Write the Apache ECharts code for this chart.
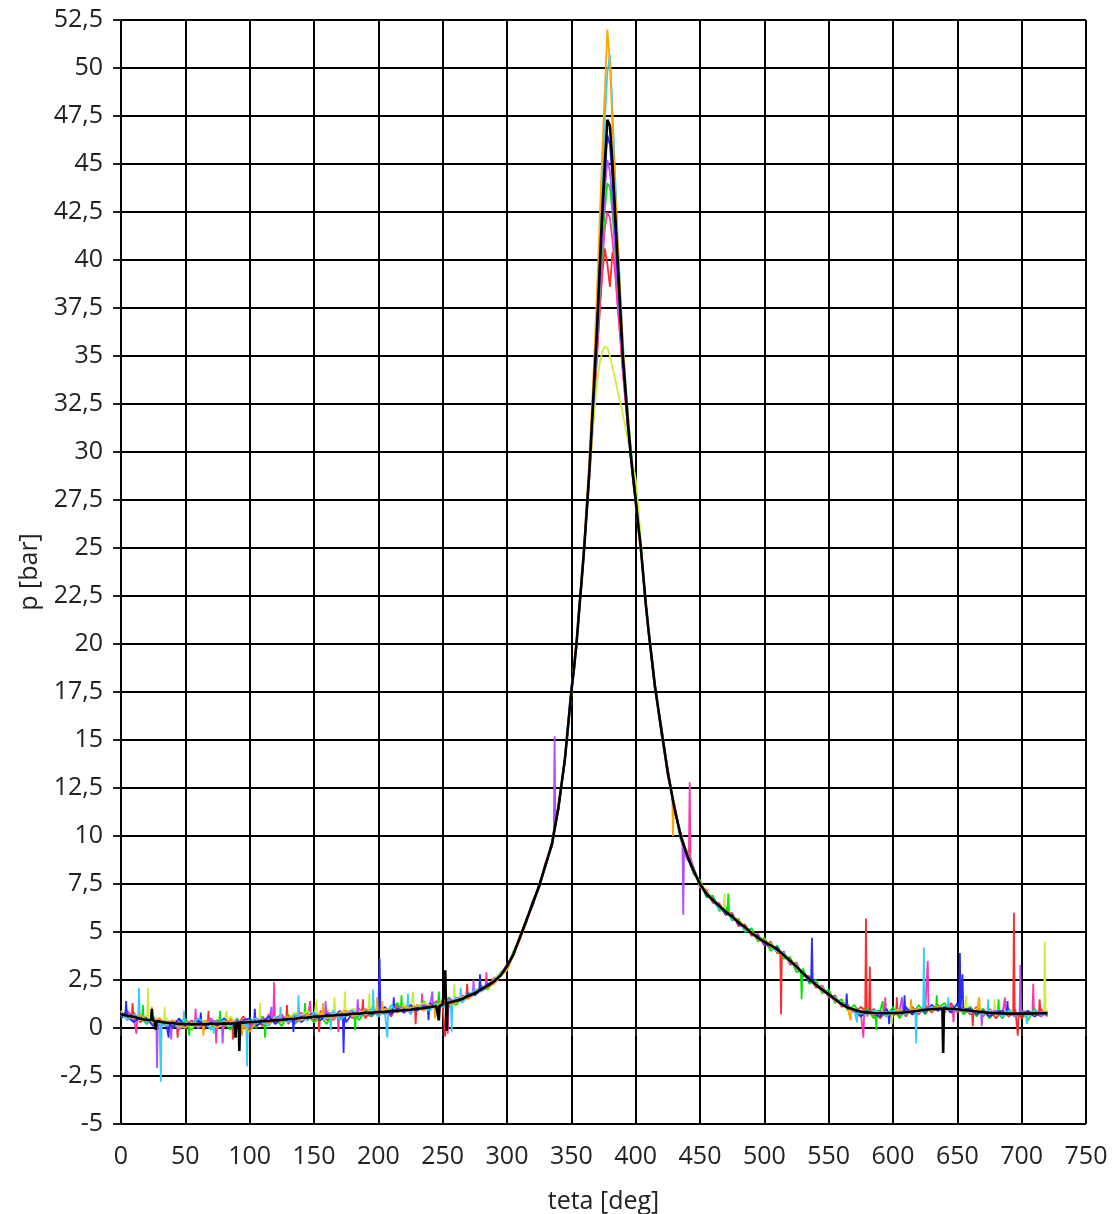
<!DOCTYPE html>
<html>
<head>
<meta charset="utf-8">
<title>p - teta</title>
<script src="https://cdn.jsdelivr.net/npm/echarts@6/dist/echarts.min.js"></script>
<style>
  html, body { margin: 0; padding: 0; background: #fff; }
  #chart { width: 1120px; height: 1214px; }
</style>
</head>
<body>
<div id="chart"></div>
<script>
// crank angle [deg] - 5 deg steps, 2 deg around the peak
var angles = [
  0,5,10,15,20,25,30,35,40,45,50,55,60,65,70,75,80,85,90,95,100,105,110,115,120,125,130,135,140,145,
  150,155,160,165,170,175,180,185,190,195,200,205,210,215,220,225,230,235,240,245,250,255,260,265,270,
  275,280,285,290,295,300,305,310,315,320,325,330,335,340,345,
  350,352,354,356,358,360,362,364,366,368,370,372,374,376,378,380,382,384,386,388,390,392,394,396,398,
  400,402,404,406,408,410,
  415,420,425,430,435,440,445,450,455,460,465,470,475,480,485,490,495,500,505,510,515,520,525,530,535,
  540,545,550,555,560,565,570,575,580,585,590,595,600,605,610,615,620,625,630,635,640,645,650,655,660,
  665,670,675,680,685,690,695,700,705,710,715,720
];

// mean pressure (black)
var meanP = [
  0.72,0.64,0.58,0.48,0.42,0.36,0.33,0.27,0.26,0.21,0.21,0.19,0.21,0.19,0.22,0.21,0.24,0.22,0.27,0.27,
  0.31,0.31,0.36,0.37,0.41,0.42,0.47,0.48,0.53,0.54,0.59,0.60,0.64,0.65,0.69,0.69,0.74,0.74,0.79,0.79,
  0.83,0.84,0.88,0.89,0.94,0.95,1.01,1.03,1.09,1.13,1.21,1.29,1.41,1.51,1.67,1.81,2.01,2.19,2.43,2.74,
  3.21,3.84,4.71,5.59,6.51,7.39,8.51,9.59,11.5,14.0,
  17.5,18.7,20.0,21.7,23.3,25.0,27.0,29.0,31.5,34.0,36.5,39.5,42.5,45.0,47.3,47.0,45.0,42.5,40.0,37.5,
  35.0,33.3,31.5,30.0,28.7,27.5,26.2,25.0,23.5,22.0,20.7,
  17.8,15.5,13.3,11.5,10.0,9.0,8.2,7.5,7.0,6.65,6.35,6.05,5.8,5.5,5.25,4.95,4.7,4.5,4.3,4.1,
  3.8,3.5,3.2,2.85,2.55,2.25,2.0,1.75,1.5,1.25,1.05,0.95,0.85,0.8,0.78,0.77,0.77,0.78,0.79,0.82,
  0.86,0.9,0.95,0.98,1.0,1.0,1.0,0.98,0.94,0.9,0.86,0.82,0.79,0.77,0.76,0.75,0.75,0.75,0.75,0.76,
  0.77,0.78
];

// single cycles
var redP = [
  0.9,0.5,0.8,0.3,0.6,0.2,0.5,0.1,0.4,0.0,0.4,0.1,0.5,-0.1,0.3,0.4,0.0,0.5,0.1,0.6,
  0.2,0.5,0.1,0.7,0.3,0.6,0.2,0.8,0.4,0.7,0.3,0.9,0.4,0.8,0.5,0.9,0.6,1.0,0.5,1.1,
  0.7,1.0,0.6,1.2,0.8,1.1,0.9,1.3,1.0,1.4,1.1,1.5,1.3,1.7,1.6,1.9,2.1,2.2,2.6,2.7,
  3.3,3.8,4.8,5.5,6.6,7.3,8.6,9.5,11.6,13.9,
  17.5,18.7,20.1,21.6,23.2,24.9,26.8,28.6,30.6,32.8,35.0,37.2,39.2,40.6,39.8,38.6,40.4,39.6,37.8,36.0,
  34.2,32.7,31.2,29.8,28.6,27.4,26.2,25.0,23.5,22.0,20.7,
  17.9,15.3,13.5,11.3,10.2,8.8,8.4,7.3,7.2,6.5,6.5,5.9,6.0,5.3,5.4,4.8,4.9,4.3,4.5,3.9,
  4.0,3.3,3.4,2.7,2.7,2.1,2.2,1.6,1.7,1.1,1.2,0.8,1.1,0.6,1.0,0.5,0.9,0.6,1.0,0.6,
  1.1,0.7,1.2,0.8,1.2,0.8,1.3,0.8,1.1,0.7,1.1,0.6,1.0,0.5,0.9,0.6,1.0,0.5,0.9,0.6,
  1.0,0.6
];
var greenP = [
  0.6,0.8,0.4,0.7,0.2,0.6,0.1,0.5,0.0,0.3,0.5,-0.1,0.4,0.2,0.0,0.4,0.3,-0.1,0.5,0.1,
  0.4,0.0,0.6,0.2,0.5,0.1,0.7,0.2,0.5,0.9,0.3,0.6,0.2,0.9,0.5,0.6,1.0,0.4,0.9,0.6,
  1.1,0.7,1.0,1.3,0.8,1.1,0.9,1.4,1.0,1.3,1.2,1.6,1.2,1.5,1.8,1.7,2.2,2.0,2.5,2.9,
  3.1,4.0,4.6,5.7,6.4,7.5,8.4,9.7,11.4,14.1,
  17.4,18.8,19.9,21.7,23.2,25.0,27.0,28.9,31.2,33.5,35.8,38.2,40.6,42.6,44.0,43.8,42.4,40.6,38.8,37.0,
  35.2,33.5,31.9,30.4,29.0,27.7,26.5,25.2,23.6,22.1,20.7,
  17.7,15.6,13.2,11.6,9.8,9.2,8.0,7.7,6.8,6.9,6.1,6.3,5.6,5.7,5.0,5.2,4.5,4.7,4.0,4.3,
  3.6,3.7,2.9,3.1,2.3,2.5,1.8,2.0,1.3,1.5,0.9,1.2,0.7,1.0,0.5,0.9,0.6,1.1,0.5,1.0,
  0.7,1.2,0.7,1.2,0.9,1.3,0.8,1.2,0.7,1.1,0.6,1.0,0.5,0.9,0.5,1.0,0.6,0.9,0.4,1.0,
  0.6,0.9
];
var blueP = [
  0.5,0.7,0.3,0.6,0.5,0.1,0.4,0.3,0.0,0.5,0.1,0.3,0.4,0.0,0.3,0.1,0.5,0.2,0.0,0.4,
  0.5,0.1,0.3,0.6,0.2,0.5,0.4,0.7,0.3,0.6,0.8,0.4,0.7,0.5,0.9,0.3,0.8,0.6,1.0,0.7,
  0.9,1.1,0.7,1.0,0.8,1.2,0.9,1.1,1.3,1.0,1.3,1.2,1.5,1.4,1.8,1.7,1.9,2.3,2.4,2.7,
  3.3,3.8,4.7,5.6,6.4,7.5,8.4,9.7,11.4,14.0,
  17.6,18.6,20.1,21.6,23.4,25.1,27.1,29.1,31.4,33.8,36.4,39.2,42.0,44.4,46.5,46.0,44.2,41.8,39.4,37.2,
  34.9,33.2,31.5,30.0,28.7,27.5,26.2,25.0,23.5,22.0,20.7,
  17.6,15.7,13.4,11.4,10.1,8.9,8.1,7.6,6.9,6.7,6.4,5.9,5.9,5.4,5.3,4.9,4.8,4.4,4.2,4.2,
  3.7,3.6,3.1,2.9,2.4,2.3,1.9,1.8,1.4,1.3,1.0,0.9,0.6,0.9,0.7,0.6,1.0,0.7,0.9,1.1,
  0.7,1.0,0.8,1.2,0.9,1.1,0.8,1.3,0.9,1.0,0.7,0.9,0.6,0.8,0.9,0.6,0.8,0.7,0.9,0.6,
  0.8,0.7
];
var cyanP = [
  0.8,0.4,0.7,0.6,0.3,0.5,0.2,0.1,0.4,0.0,0.3,0.2,0.5,0.3,-0.1,0.2,0.4,0.1,0.3,0.0,
  0.2,0.5,0.3,0.1,0.6,0.4,0.3,0.7,0.5,0.4,0.8,0.6,0.5,0.9,0.4,0.7,0.9,0.6,0.8,1.0,
  0.6,0.9,1.2,0.8,1.1,0.7,1.2,1.0,0.9,1.3,1.1,1.4,1.6,1.3,1.7,2.0,1.9,2.1,2.5,2.8,
  3.1,3.9,4.6,5.6,6.5,7.3,8.5,9.6,11.5,14.1,
  17.7,18.8,19.8,21.9,23.2,24.8,26.9,29.2,31.8,34.6,37.6,40.8,44.0,47.2,49.8,50.7,47.8,44.5,41.2,38.4,
  35.8,33.8,31.9,30.3,28.8,27.6,26.3,25.1,23.6,22.1,20.8,
  17.9,15.4,13.3,11.6,9.9,9.1,8.3,7.4,7.1,6.6,6.2,6.1,5.7,5.6,5.1,5.0,4.6,4.6,4.2,4.0,
  3.9,3.4,3.3,2.8,2.6,2.2,2.1,1.7,1.6,1.2,1.1,0.9,0.8,0.7,0.9,0.8,0.6,0.9,0.8,0.7,
  1.0,0.9,0.8,1.1,1.0,0.9,1.1,0.9,1.0,0.8,0.9,0.7,0.9,0.8,0.6,0.9,0.7,0.8,0.6,0.9,
  0.7,0.8
];
var magentaP = [
  0.6,0.9,0.5,0.4,0.6,0.2,0.1,0.4,0.3,-0.1,0.2,0.4,0.0,0.3,0.5,0.1,0.2,0.4,0.0,0.3,
  0.1,0.4,0.6,0.2,0.5,0.7,0.3,0.4,0.8,0.5,0.3,0.7,0.9,0.4,0.6,0.8,0.5,1.0,0.7,0.6,
  1.0,0.8,0.7,1.1,1.0,0.8,1.2,1.1,1.0,1.3,1.4,1.1,1.6,1.5,1.6,1.9,2.0,2.3,2.4,2.8,
  3.2,3.9,4.7,5.5,6.6,7.4,8.6,9.5,11.6,13.9,
  17.6,18.7,20.0,21.6,23.3,25.1,26.9,28.8,30.9,33.0,35.2,37.6,39.8,41.6,42.5,42.2,41.0,39.4,37.6,36.0,
  34.3,32.8,31.3,29.9,28.6,27.4,26.2,25.0,23.5,22.0,20.7,
  17.8,15.5,13.1,11.7,10.0,8.8,8.3,7.5,6.9,6.8,6.3,6.0,5.9,5.4,5.3,4.9,4.8,4.4,4.4,4.0,
  3.9,3.4,3.3,2.8,2.6,2.3,1.9,1.8,1.4,1.3,1.0,1.0,0.8,0.9,0.6,0.9,0.7,0.9,0.6,1.0,
  0.8,1.0,0.9,1.1,1.1,0.9,1.2,1.0,0.8,1.1,0.7,1.0,0.6,0.9,0.7,0.8,0.6,0.9,0.8,0.7,
  0.9,0.8
];
var orangeP = [
  0.7,0.6,0.5,0.7,0.4,0.3,0.5,0.2,0.4,0.1,0.0,0.3,0.1,0.4,0.2,0.0,0.3,0.4,0.2,0.1,
  -0.2,0.3,0.4,0.2,0.5,0.3,0.6,0.5,0.4,0.7,0.5,0.8,0.6,0.5,0.8,0.9,0.6,0.7,1.0,0.8,
  0.7,1.0,0.9,0.8,1.1,1.0,1.2,0.9,1.2,1.1,1.4,1.2,1.3,1.6,1.5,1.8,2.0,2.1,2.3,2.7,
  3.0,3.8,4.6,5.5,6.5,7.3,8.5,9.6,11.5,14.0,
  17.3,18.9,20.2,21.5,23.6,25.2,27.4,29.6,32.3,35.2,38.4,42.0,45.6,48.8,52.0,50.2,47.0,43.8,41.0,38.2,
  35.6,33.6,31.8,30.1,28.6,27.4,26.0,24.8,23.4,21.8,20.6,
  17.7,15.6,13.4,11.4,10.1,9.1,8.1,7.6,7.1,6.6,6.4,6.0,5.8,5.6,5.2,5.0,4.6,4.6,4.2,4.1,
  3.7,3.6,3.1,2.9,2.5,2.3,1.9,1.8,1.4,1.3,1.0,1.0,0.8,0.8,0.7,0.8,0.8,0.7,0.9,0.8,
  0.8,1.0,0.9,1.0,1.1,0.9,1.0,1.0,0.9,0.9,0.8,0.8,0.8,0.7,0.8,0.7,0.8,0.7,0.8,0.7,
  0.8,0.8
];
var limeP = [
  0.9,0.5,0.6,0.4,0.7,0.3,0.2,0.5,0.1,0.4,0.3,0.0,0.5,0.2,0.4,0.1,0.3,0.6,0.2,0.4,
  0.3,0.5,0.2,0.4,0.6,0.3,0.5,0.8,0.6,0.9,0.5,0.7,1.0,0.6,0.8,0.7,1.0,0.9,0.7,1.1,
  0.9,0.8,1.1,0.9,1.2,1.0,1.1,1.3,1.2,1.1,1.4,1.3,1.5,1.6,1.7,2.0,2.1,2.2,2.5,2.9,
  3.1,3.9,4.7,5.6,6.5,7.4,8.5,9.6,11.5,14.0,
  17.5,18.8,20.0,21.7,23.4,25.1,26.9,28.7,30.5,32.2,33.6,34.6,35.2,35.5,35.4,35.0,34.4,33.8,33.2,32.6,
  32.0,31.3,30.6,30.0,29.3,28.6,27.2,25.4,23.7,22.0,20.8,
  17.9,15.4,13.3,11.5,10.1,9.0,8.3,7.4,7.1,6.6,6.4,6.0,5.9,5.5,5.3,4.9,4.8,4.5,4.4,4.0,
  3.9,3.5,3.3,2.8,2.6,2.2,2.1,1.7,1.6,1.2,1.1,0.9,0.9,0.7,0.9,0.8,0.9,0.7,1.0,0.8,
  0.9,0.8,1.0,0.9,1.1,0.9,1.0,1.1,0.9,0.8,1.0,0.7,0.9,0.7,0.8,0.9,0.7,0.8,0.9,0.7,
  0.8,0.9
];
var purpleP = [
  0.7,0.8,0.4,0.5,0.3,0.5,0.0,0.3,0.2,0.4,0.1,0.3,0.0,0.2,0.4,0.3,0.1,0.2,0.4,0.2,
  0.0,0.3,0.5,0.3,0.4,0.6,0.4,0.3,0.6,0.7,0.5,0.6,0.8,0.7,0.5,0.8,0.9,0.7,0.9,0.8,
  1.0,0.7,0.9,1.0,1.1,0.9,1.0,1.2,1.1,1.0,1.2,1.5,1.4,1.5,1.7,1.8,2.1,2.2,2.4,2.8,
  3.3,3.8,4.7,5.6,6.4,7.4,8.5,9.6,11.5,14.0,
  17.8,18.5,20.0,21.8,23.5,24.9,26.8,28.8,31.0,33.4,35.9,38.5,41.2,43.6,45.2,44.6,43.0,40.8,38.6,36.6,
  34.5,32.9,31.2,29.8,28.5,27.3,26.1,24.9,23.4,21.9,20.6,
  17.8,15.5,13.2,11.6,9.9,9.0,8.2,7.5,7.0,6.7,6.3,6.1,5.7,5.5,5.2,5.0,4.6,4.5,4.3,4.1,
  3.8,3.5,3.2,2.9,2.5,2.3,2.0,1.7,1.5,1.2,1.1,0.9,0.9,0.8,0.7,0.9,0.6,0.8,0.9,0.7,
  1.0,0.8,1.0,1.0,0.9,1.1,0.9,1.0,1.0,0.8,0.9,0.7,0.8,0.9,0.7,0.8,0.6,0.9,0.7,0.8,
  0.6,0.8
];

// noise spikes [angle, p]
var meanSpikes = [[23.4,0.4],[24,1.0],[24.6,0.4],[26.4,0.35],[27,-0.1],[27.6,0.35],[88.4,0.25],[89,-0.5],[89.6,0.25],
  [91.4,0.3],[92,-1.2],[92.6,0.3],[246.4,1.15],[247,0.4],[247.6,1.15],
  [251.4,1.2],[252,3.0],[252.6,1.2],[253.2,-0.15],[253.8,1.3],[638.4,1.0],[639,-1.3],[639.6,1.0]];
var redSpikes = [[8.4,0.6],[9,1.3],[9.6,0.6],[43.4,0.2],[44,-0.5],[44.6,0.3],[67.4,0.2],[68,0.9],[68.6,0.2],
  [86.4,0.3],[87,-0.6],[87.6,0.2],[128.4,0.4],[129,1.2],[129.6,0.5],[153.4,0.6],[154,-0.2],[154.6,0.6],
  [187.4,0.8],[188,1.5],[188.6,0.7],[228.4,1.0],[229,0.2],[229.6,1.0],[251.4,1.0],[252,-0.45],[252.6,1.1],
  [268.4,1.6],[269,2.3],[269.6,1.7],[512.4,3.9],[513,0.7],[513.6,3.8],[578.4,0.9],[579,5.7],[579.6,0.8],
  [581.4,0.9],[582,3.2],[582.6,0.8],[602.4,0.8],[603,1.6],[603.6,0.7],[661.4,0.9],[662,0.1],[662.6,0.9],
  [693.4,0.8],[694,6.0],[694.6,0.7],[696.4,0.9],[697,-0.4],[697.6,0.8],[713.4,0.8],[714,1.5],[714.6,0.7]];
var greenSpikes = [[16.4,0.5],[17,1.2],[17.6,0.4],[52.4,0.2],[53,-0.4],[53.6,0.2],[76.4,0.2],[77,0.9],[77.6,0.3],
  [111.4,0.4],[112,-0.5],[112.6,0.3],[142.4,0.5],[143,1.3],[143.6,0.6],[181.4,0.7],[182,-0.1],[182.6,0.7],
  [217.4,0.9],[218,1.7],[218.6,0.9],[246.4,1.1],[247,1.9],[247.6,1.2],[471.4,6.0],[472,7.0],[472.6,5.9],
  [528.4,3.0],[529,1.5],[529.6,2.9],[586.4,0.8],[587,-0.1],[587.6,0.9],[591.4,0.8],[592,1.4],[592.6,0.8],
  [633.4,1.0],[634,1.7],[634.6,1.0],[681.4,0.7],[682,1.5],[682.6,0.7]];
var blueSpikes = [[3.4,0.7],[4,1.4],[4.6,0.6],[36.4,0.3],[37,-0.5],[37.6,0.3],[61.4,0.2],[62,0.8],[62.6,0.2],
  [103.4,0.3],[104,1.0],[104.6,0.3],[133.4,0.5],[134,-0.2],[134.6,0.5],[172.4,0.7],[173,-1.3],[173.6,0.7],
  [200.4,0.8],[201,3.6],[201.6,0.9],[211.4,0.9],[212,1.6],[212.6,0.9],[238.4,1.1],[239,0.4],[239.6,1.1],
  [278.4,1.9],[279,2.8],[279.6,2.0],[536.4,2.6],[537,4.7],[537.6,2.5],[563.4,1.1],[564,1.8],[564.6,1.1],
  [596.4,0.8],[597,0.2],[597.6,0.8],[608.4,0.8],[609,1.7],[609.6,0.8],
  [651.4,1.0],[652,3.9],[652.6,1.0],[653.4,1.0],[654,2.8],[654.6,1.0],[688.4,0.7],[689,1.4],[689.6,0.7]];
var cyanSpikes = [[13.4,0.6],[14,2.1],[14.6,0.5],[30.4,0.3],[31,-2.8],[31.6,0.3],[48.4,0.2],[49,0.9],[49.6,0.2],
  [71.4,0.2],[72,-0.3],[72.6,0.2],[97.4,0.3],[98,-2.0],[98.6,0.3],[123.4,0.4],[124,1.1],[124.6,0.4],
  [137.4,0.5],[138,1.7],[138.6,0.5],[162.4,0.6],[163,-0.1],[163.6,0.6],[195.4,0.8],[196,2.0],[196.6,0.8],
  [206.4,0.8],[207,-0.5],[207.6,0.9],[222.4,0.9],[223,1.8],[223.6,0.9],[256.4,1.2],[257,-0.2],[257.6,1.3],
  [263.4,1.4],[264,2.1],[264.6,1.5],[571.4,0.9],[572,0.3],[572.6,0.9],[617.4,0.8],[618,-0.8],[618.6,0.8],
  [623.4,0.9],[624,4.2],[624.6,0.9],[642.4,1.0],[643,1.6],[643.6,1.0],[673.4,0.8],[674,1.5],[674.6,0.8],
  [703.4,0.7],[704,0.2],[704.6,0.7]];
var magentaSpikes = [[11.4,0.6],[12,-0.3],[12.6,0.5],[57.4,0.2],[58,1.0],[58.6,0.2],[73.4,0.2],[74,-0.8],[74.6,0.2],
  [118.4,0.5],[119,2.4],[119.6,0.5],[146.4,0.6],[147,1.4],[147.6,0.6],[168.4,0.7],[169,-0.2],[169.6,0.7],
  [233.4,1.0],[234,1.8],[234.6,1.0],[253.4,1.2],[254,-0.3],[254.6,1.3],[283.4,2.1],[284,2.9],[284.6,2.2],
  [441.4,9.0],[442,12.8],[442.6,8.9],[576.4,0.8],[577,-0.5],[577.6,0.8],[593.4,0.8],[594,1.6],[594.6,0.8],
  [626.4,1.0],[627,3.5],[627.6,1.0],[646.4,1.0],[647,0.3],[647.6,1.0],[686.4,0.8],[687,1.6],[687.6,0.8],
  [708.4,0.8],[709,2.3],[709.6,0.8]];
var orangeSpikes = [[23.4,0.4],[24,1.1],[24.6,0.4],[63.4,0.2],[64,-0.4],[64.6,0.2],[93.4,0.3],[94,-0.4],[94.6,0.3],
  [156.4,0.6],[157,1.3],[157.6,0.6],[198.4,0.8],[199,1.6],[199.6,0.8],[202.4,0.8],[203,1.4],[203.6,0.8],
  [243.4,1.1],[244,0.5],[244.6,1.1],[428.4,12.2],[429,10.0],[429.6,11.9],[566.4,1.0],[567,0.4],[567.6,1.0],
  [613.4,0.8],[614,1.5],[614.6,0.9],[666.4,0.9],[667,1.6],[667.6,0.9]];
var limeSpikes = [[20.4,0.5],[21,2.1],[21.6,0.4],[33.4,0.3],[34,1.1],[34.6,0.3],[81.4,0.2],[82,0.9],[82.6,0.3],
  [107.4,0.3],[108,1.3],[108.6,0.3],[151.4,0.6],[152,1.5],[152.6,0.6],[165.4,0.6],[166,1.6],[166.6,0.6],
  [173.4,0.7],[174,1.9],[174.6,0.7],[192.4,0.8],[193,1.8],[193.6,0.8],[226.4,1.0],[227,1.9],[227.6,1.0],
  [258.4,1.3],[259,2.3],[259.6,1.4],[468.4,6.1],[469,7.0],[469.6,6.0],[598.4,0.8],[599,0.2],[599.6,0.8],
  [656.4,0.9],[657,1.7],[657.6,0.9],[678.4,0.8],[679,1.5],[679.6,0.8],[717.4,0.8],[718,4.5],[718.6,0.8]];
var purpleSpikes = [[27.4,0.4],[28,-2.1],[28.6,0.3],[38.4,0.3],[39,-0.6],[39.6,0.3],[78.4,0.2],[79,-0.8],[79.6,0.2],
  [116.4,0.4],[117,1.1],[117.6,0.4],[158.4,0.6],[159,1.4],[159.6,0.6],[183.4,0.7],[184,1.5],[184.6,0.7],
  [241.4,1.1],[242,1.9],[242.6,1.1],[273.4,1.7],[274,2.5],[274.6,1.8],[336.4,10.3],[337,15.2],[337.6,10.6],
  [436.4,9.5],[437,5.9],[437.6,9.3],[606.4,0.8],[607,1.6],[607.6,0.8],[668.4,0.8],[669,0.1],[669.6,0.8],
  [698.4,0.8],[699,3.3],[699.6,0.7]];

var traces = [
  { color: '#ff2a2a', values: redP, spikes: redSpikes },
  { color: '#ff33aa', values: magentaP, spikes: magentaSpikes },
  { color: '#00e600', values: greenP, spikes: greenSpikes },
  { color: '#c6f03c', values: limeP, spikes: limeSpikes },
  { color: '#b44cff', values: purpleP, spikes: purpleSpikes },
  { color: '#2b2bff', values: blueP, spikes: blueSpikes },
  { color: '#33ccff', values: cyanP, spikes: cyanSpikes },
  { color: '#ffa500', values: orangeP, spikes: orangeSpikes }
];

function makeData(values, spikes) {
  var pts = angles.map(function (a, i) { return [a, values[i]]; });
  pts = pts.concat(spikes);
  pts.sort(function (a, b) { return a[0] - b[0]; });
  return pts;
}

function comma(v) {
  return String(v).replace('.', ',');
}

var series = traces.map(function (t) {
  return {
    type: 'line',
    data: makeData(t.values, t.spikes),
    showSymbol: false,
    silent: true,
    lineStyle: { color: t.color, width: 1.8 },
    z: 2
  };
});
series.push({
  type: 'line',
  data: makeData(meanP, meanSpikes),
  showSymbol: false,
  silent: true,
  lineStyle: { color: '#000', width: 2.6 },
  z: 3
});

var font = 'Open Sans';
var chart = echarts.init(document.getElementById('chart'));
chart.setOption({
  backgroundColor: '#fff',
  animation: false,
  // keep the plot box fixed, the axis title may touch the bottom edge
  grid: { left: 121, right: 34, top: 20, bottom: 90, outerBoundsMode: 'none' },
  xAxis: {
    type: 'value',
    min: 0,
    max: 750,
    interval: 50,
    offset: 5,
    name: 'teta [deg]',
    nameLocation: 'middle',
    nameGap: 60,
    nameTextStyle: { fontSize: 25, color: '#222', fontFamily: font },
    axisLine: { show: false },
    axisTick: { show: true, length: 8, lineStyle: { color: '#222', width: 2 } },
    axisLabel: { margin: 15, fontSize: 25, color: '#222', fontFamily: font, formatter: comma },
    splitLine: { show: true, lineStyle: { color: '#000', width: 2 } }
  },
  yAxis: {
    type: 'value',
    min: -5,
    max: 52.5,
    interval: 2.5,
    offset: 3,
    name: 'p [bar]',
    nameLocation: 'middle',
    nameGap: 74,
    nameTextStyle: { fontSize: 25, color: '#222', fontFamily: font },
    axisLine: { show: false },
    axisTick: { show: true, length: 8, lineStyle: { color: '#222', width: 2 } },
    axisLabel: { margin: 15, fontSize: 25, color: '#222', fontFamily: font, formatter: comma },
    splitLine: { show: true, lineStyle: { color: '#000', width: 2 } }
  },
  series: series
});
</script>
</body>
</html>
